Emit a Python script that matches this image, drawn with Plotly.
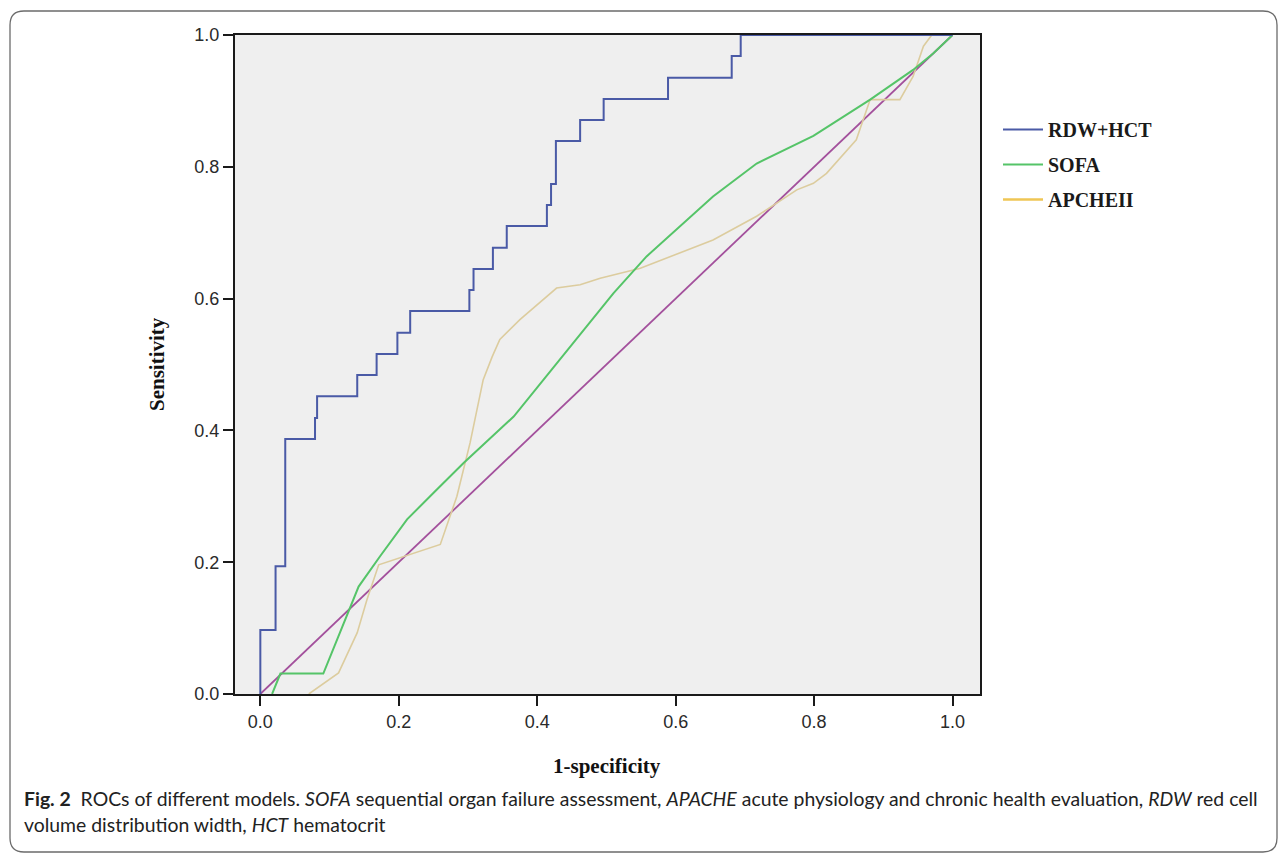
import plotly.graph_objects as go

# ---------------- data ----------------
series_names = ["RDW+HCT", "SOFA", "APCHEII"]

rdw_fpr = [0.0, 0.0, 0.022, 0.036, 0.079, 0.082, 0.140, 0.168, 0.198, 0.2165, 0.302, 0.308,
           0.336, 0.356, 0.414, 0.420, 0.427, 0.462, 0.496, 0.589, 0.681, 0.694, 1.0]
rdw_tpr = [0.0, 0.097, 0.194, 0.387, 0.419, 0.452, 0.484, 0.516, 0.548, 0.581, 0.613, 0.645,
           0.677, 0.710, 0.742, 0.774, 0.839, 0.871, 0.903, 0.935, 0.968, 1.0, 1.0]

sofa_fpr = [0.017, 0.029, 0.091, 0.142, 0.173, 0.212, 0.250, 0.294, 0.366, 0.409, 0.462,
            0.510, 0.558, 0.606, 0.654, 0.717, 0.799, 0.881, 0.943, 0.972, 1.0]
sofa_tpr = [0.0, 0.031, 0.031, 0.163, 0.209, 0.265, 0.305, 0.351, 0.421, 0.477, 0.545,
            0.608, 0.664, 0.709, 0.755, 0.805, 0.847, 0.902, 0.947, 0.972, 1.0]

apache_fpr = [0.070, 0.113, 0.140, 0.154, 0.171, 0.202, 0.260, 0.284, 0.303, 0.322, 0.335,
              0.346, 0.375, 0.428, 0.462, 0.491, 0.549, 0.654, 0.717, 0.775, 0.799, 0.818,
              0.861, 0.881, 0.924, 0.943, 0.958, 0.970, 1.0]
apache_tpr = [0.0, 0.032, 0.093, 0.143, 0.196, 0.207, 0.227, 0.300, 0.381, 0.477, 0.512,
              0.538, 0.568, 0.616, 0.621, 0.631, 0.646, 0.689, 0.725, 0.765, 0.775, 0.790,
              0.841, 0.902, 0.902, 0.937, 0.983, 1.0, 1.0]

ref_x = [0.0, 1.0]
ref_y = [0.0, 1.0]

tick_vals = [0.0, 0.2, 0.4, 0.6, 0.8, 1.0]
tick_text = ["0.0", "0.2", "0.4", "0.6", "0.8", "1.0"]

x_title = "1-specificity"
y_title = "Sensitivity"
caption_line1 = ("<b>Fig. 2</b>  ROCs of different models. <i>SOFA</i> sequential organ failure assessment, "
                 "<i>APACHE</i> acute physiology and chronic health evaluation, <i>RDW</i> red cell")
caption_line2 = "volume distribution width, <i>HCT</i> hematocrit"

# ---------------- styles ----------------
C_BLUE = "#4A5AA6"
C_GREEN = "#55C468"
C_TAN = "#DCCC9E"
C_TAN_LEG = "#EFC655"
C_REF = "#A3509C"
SERIF = "Liberation Serif, Times New Roman, serif"
SANS = "Liberation Sans, Arial, sans-serif"
CAP_FONT = "Lato, Open Sans, sans-serif"

OFF = 8  # page body margin of the browser
W, H = 1287 - OFF, 854 - OFF
ML, MT = 235 - OFF, 35 - OFF
MR = W - (980 - OFF)
MB = H - (694 - OFF)
PW, PH = W - ML - MR, H - MT - MB

fig = go.Figure()

fig.add_trace(go.Scatter(x=ref_x, y=ref_y, mode="lines", showlegend=False,
                         line=dict(color=C_REF, width=1.8), hoverinfo="skip"))
fig.add_trace(go.Scatter(x=apache_fpr, y=apache_tpr, mode="lines", showlegend=False,
                         line=dict(color=C_TAN, width=1.6)))
fig.add_trace(go.Scatter(x=sofa_fpr, y=sofa_tpr, mode="lines", name=series_names[1],
                         legendgroup="b", legendrank=2,
                         line=dict(color=C_GREEN, width=2)))
fig.add_trace(go.Scatter(x=rdw_fpr, y=rdw_tpr, mode="lines", name=series_names[0],
                         legendgroup="a", legendrank=1,
                         line=dict(color=C_BLUE, width=2, shape="hv")))
# legend entry for APCHEII (legend sample drawn in its brighter legend colour)
fig.add_trace(go.Scatter(x=[None], y=[None], mode="lines", name=series_names[2],
                         legendgroup="c", legendrank=3,
                         line=dict(color=C_TAN_LEG, width=2.5)))


def px2x(rx):
    """reference-screen x pixel -> paper coordinate"""
    return (rx - OFF - ML) / PW


def py2y(ry):
    """reference-screen y pixel -> paper coordinate"""
    return (H - MB - (ry - OFF)) / PH


# rounded frame around the whole figure
L, T, R, B, rad = 10, 11, 1277, 852, 14
path = (f"M {px2x(L + rad)},{py2y(T)} L {px2x(R - rad)},{py2y(T)} "
        f"Q {px2x(R)},{py2y(T)} {px2x(R)},{py2y(T + rad)} "
        f"L {px2x(R)},{py2y(B - rad)} Q {px2x(R)},{py2y(B)} {px2x(R - rad)},{py2y(B)} "
        f"L {px2x(L + rad)},{py2y(B)} Q {px2x(L)},{py2y(B)} {px2x(L)},{py2y(B - rad)} "
        f"L {px2x(L)},{py2y(T + rad)} Q {px2x(L)},{py2y(T)} {px2x(L + rad)},{py2y(T)} Z")
fig.add_shape(type="path", path=path, xref="paper", yref="paper",
              line=dict(color="#6b6b6b", width=1.3), fillcolor="rgba(0,0,0,0)", layer="below")

axis_common = dict(showgrid=False, zeroline=False, showline=True, linecolor="#1a1a1a",
                   linewidth=2, mirror=True, ticks="outside", ticklen=10, tickwidth=2,
                   tickcolor="#1a1a1a", tickvals=tick_vals, ticktext=tick_text,
                   tickfont=dict(family=SANS, size=18, color="#2a2a2a"))

fig.update_layout(
    width=W, height=H,
    margin=dict(l=ML, r=MR, t=MT, b=MB, autoexpand=False),
    paper_bgcolor="white", plot_bgcolor="#EFEFEF",
    xaxis=dict(range=[-0.0366, 1.0397], **axis_common),
    yaxis=dict(range=[0, 1], **axis_common),
    legend=dict(x=px2x(998), y=py2y(110), xanchor="left", yanchor="top",
                bgcolor="rgba(0,0,0,0)", traceorder="grouped", tracegroupgap=6,
                itemwidth=40,
                font=dict(family=SERIF, size=20, color="#1a1a1a", weight="bold")),
    showlegend=True,
)

annotations = [
    dict(text=f"<b>{x_title}</b>", xref="paper", yref="paper", x=px2x(607), y=py2y(766),
         xanchor="center", yanchor="middle", showarrow=False,
         font=dict(family=SERIF, size=21, color="#111")),
    dict(text=f"<b>{y_title}</b>", xref="paper", yref="paper", x=px2x(157), y=py2y(364),
         xanchor="center", yanchor="middle", showarrow=False, textangle=-90,
         font=dict(family=SERIF, size=21, color="#111")),
    dict(text=caption_line1, xref="paper", yref="paper", x=px2x(22), y=py2y(798),
         xanchor="left", yanchor="middle", showarrow=False, align="left",
         font=dict(family=CAP_FONT, size=19.4, color="#222")),
    dict(text=caption_line2, xref="paper", yref="paper", x=px2x(22), y=py2y(824),
         xanchor="left", yanchor="middle", showarrow=False, align="left",
         font=dict(family=CAP_FONT, size=19.4, color="#222")),
]
fig.update_layout(annotations=annotations)

fig.write_html("out.html")
